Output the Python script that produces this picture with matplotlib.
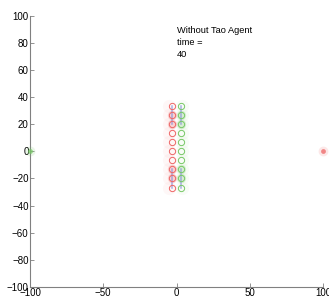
import matplotlib
matplotlib.use("Agg")
import matplotlib.pyplot as plt
import numpy as np

plt.rcParams['font.family'] = ['Liberation Sans', 'DejaVu Sans']

# data
red_x = [-3] * 10
green_x = [3] * 10
col_y = [33.3, 26.7, 20.0, 13.3, 6.7, 0.0, -6.7, -13.3, -20.0, -26.7]
filled_idx = [1, 2, 7, 8]          # circles drawn with a filled halo
link_segments = [(0, 2), (7, 9)]   # blue links between circles (index ranges)
green_target = (-100, 0)
red_target = (100, 0)
title_lines = ["Without Tao Agent", "time =", "40"]
ticks = [-100, -50, 0, 50, 100]
yticks = [-100, -80, -60, -40, -20, 0, 20, 40, 60, 80, 100]

fig = plt.figure(figsize=(3.29, 3.01), dpi=100)
ax = fig.add_axes([0.091, 0.047, 0.891, 0.900])

red = '#ee6666'
green = '#77c866'
blue = '#8890dc'

rx = np.array(red_x); gx = np.array(green_x); y = np.array(col_y)

# faint trails / halos
ax.scatter(rx - 2, y, s=90, color=red, alpha=0.05, linewidths=0)
ax.scatter(gx + 1, y, s=90, color=green, alpha=0.05, linewidths=0)
ax.scatter(rx[filled_idx], y[filled_idx], s=45, color=red, alpha=0.25, linewidths=0)
ax.scatter(gx[filled_idx], y[filled_idx], s=45, color=green, alpha=0.25, linewidths=0)

for a, b in link_segments:
    ax.plot(rx[a:b + 1], y[a:b + 1], color=blue, lw=1.1, alpha=0.7)
    ax.plot(gx[a:b + 1], y[a:b + 1], color=blue, lw=1.1, alpha=0.7)

ax.plot(rx, y, linestyle='none', marker='o', ms=4.5, mfc='none', mec=red, mew=0.7)
ax.plot(gx, y, linestyle='none', marker='o', ms=4.5, mfc='none', mec=green, mew=0.7)

# targets with glow
for (tx, ty), c in [(green_target, green), (red_target, red)]:
    ax.scatter([tx], [ty], s=50, color=c, alpha=0.15, linewidths=0, clip_on=False, zorder=3)
    ax.scatter([tx], [ty], s=12, color=c, alpha=0.75, linewidths=0, clip_on=False, zorder=4)

ax.text(0, 92.5, "\n".join(title_lines), fontsize=6.7, va='top', ha='left', linespacing=1.4)

ax.set_xlim(-100, 100)
ax.set_ylim(-100, 100)
ax.set_xticks(ticks)
ax.set_yticks(yticks)
ax.tick_params(direction='in', length=3, width=0.6, color='#808080', labelsize=7, pad=1)
for s in ['top', 'right']:
    ax.spines[s].set_visible(False)
for s in ['left', 'bottom']:
    ax.spines[s].set_color('#808080')
    ax.spines[s].set_linewidth(0.8)

fig.savefig('out.png', dpi=100)
